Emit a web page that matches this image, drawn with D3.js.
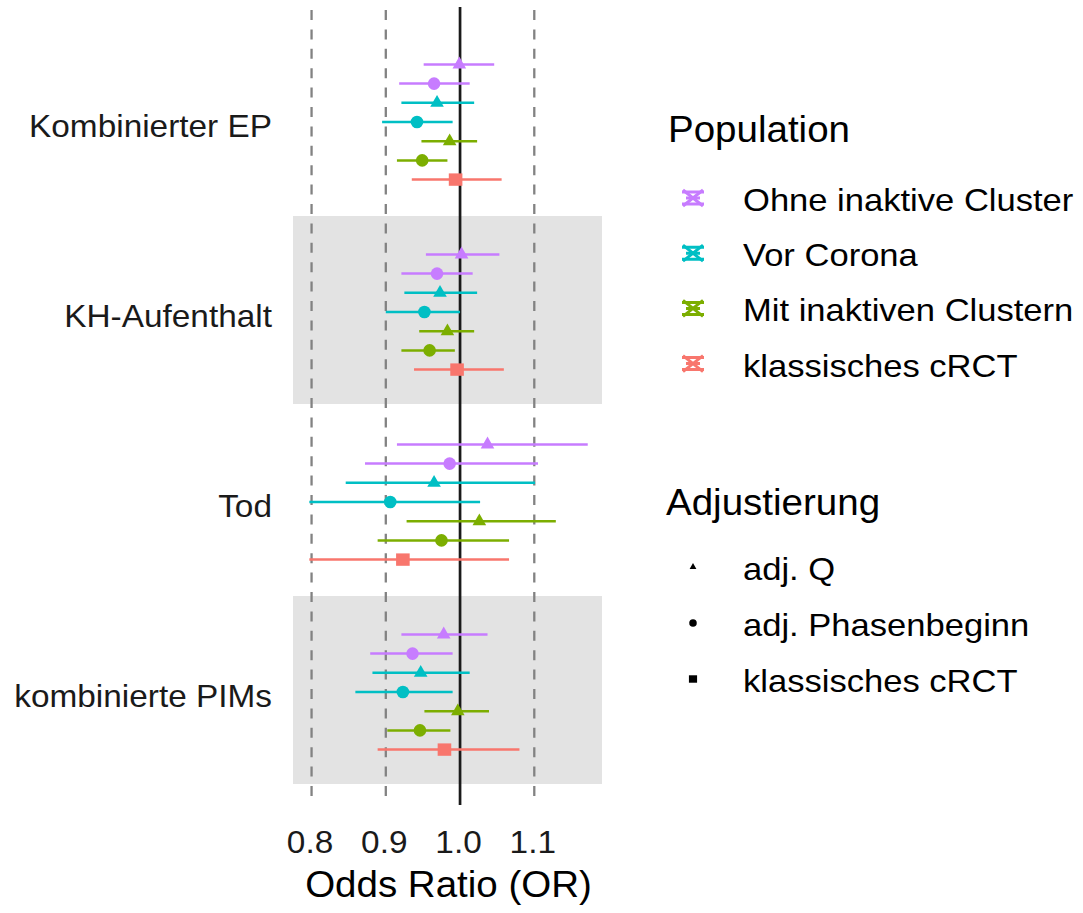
<!DOCTYPE html>
<html><head><meta charset="utf-8">
<script src="https://cdn.jsdelivr.net/npm/d3@7"></script>
<style>body{margin:0;background:#fff;} text{font-family:"Liberation Sans",Arial,sans-serif;}</style>
</head><body><svg id="c" width="1083" height="913"></svg>
<script>
const outcomes = ["Kombinierter EP","KH-Aufenthalt","Tod","kombinierte PIMs"];
const populations = ["Ohne inaktive Cluster","Vor Corona","Mit inaktiven Clustern","klassisches cRCT"];
const popColors = ["#C77CFF","#00BFC4","#7CAE00","#F8766D"];
const adjustments = ["adj. Q","adj. Phasenbeginn","klassisches cRCT"];
const adjShapes = ["triangle","circle","square"];
// the 7 estimate rows inside each outcome (top to bottom)
const rowPop = [0,0,1,1,2,2,3];
const rowAdj = [0,1,0,1,0,1,2];
const estKombEP = [0.999,0.965,0.969,0.942,0.986,0.949,0.994];
const lowKombEP = [0.951,0.918,0.921,0.895,0.948,0.915,0.935];
const highKombEP = [1.046,1.013,1.019,0.990,1.023,0.983,1.056];
const estKH = [1.002,0.969,0.973,0.952,0.983,0.959,0.996];
const lowKH = [0.954,0.921,0.925,0.900,0.945,0.921,0.938];
const highKH = [1.053,1.017,1.023,1.000,1.019,0.993,1.059];
const estTod = [1.037,0.986,0.965,0.906,1.026,0.975,0.923];
const lowTod = [0.915,0.872,0.846,0.797,0.928,0.889,0.797];
const highTod = [1.172,1.105,1.101,1.027,1.129,1.066,1.066];
const estPIM = [0.978,0.936,0.947,0.923,0.997,0.946,0.979];
const lowPIM = [0.921,0.879,0.882,0.859,0.952,0.902,0.889];
const highPIM = [1.037,0.990,1.013,0.990,1.039,0.987,1.080];
const xTicks = [0.8,0.9,1.0,1.1];
const refLine = 1.0;
const dashedLines = [0.8,0.9,1.1];

const est = [estKombEP,estKH,estTod,estPIM];
const low = [lowKombEP,lowKH,lowTod,lowPIM];
const high = [highKombEP,highKH,highTod,highPIM];
const data = [];
outcomes.forEach((o,i)=>{ for(let k=0;k<7;k++){ data.push({outcome:o,row:k,pop:rowPop[k],adj:rowAdj[k],est:est[i][k],lo:low[i][k],hi:high[i][k]}); } });

const svg = d3.select("#c");
svg.append("rect").attr("width",1083).attr("height",913).attr("fill","#fff");
const x = d3.scaleLinear().domain([0.775,1.1912]).range([293,602]);
const y = d3.scaleBand().domain(outcomes).range([27,787]).padding(0);
const dodge = d3.scaleBand().domain(d3.range(7)).range([-67.2,67.2]);
const panelTop = 7, panelBottom = 805;

// shaded bands
svg.selectAll("rect.band").data(outcomes.filter((d,i)=>i%2===1)).join("rect")
  .attr("x",x.range()[0]).attr("width",x.range()[1]-x.range()[0])
  .attr("y",d=>y(d)-1).attr("height",y.bandwidth()-2)
  .attr("fill","#E3E3E3");

// dashed lines
svg.selectAll("line.dash").data(dashedLines).join("line")
  .attr("x1",d=>x(d)).attr("x2",d=>x(d)).attr("y1",panelTop).attr("y2",panelBottom)
  .attr("stroke","#828282").attr("stroke-width",2.3).attr("stroke-dasharray","10,9.4").attr("stroke-dashoffset",16.4);
svg.append("line").attr("x1",x(refLine)).attr("x2",x(refLine)).attr("y1",panelTop).attr("y2",panelBottom)
  .attr("stroke","#1a1a1a").attr("stroke-width",2.7);

const cy = d=>y(d.outcome)+y.bandwidth()/2+dodge(d.row)+dodge.bandwidth()/2;
// error bars
svg.selectAll("line.eb").data(data).join("line")
  .attr("x1",d=>x(d.lo)).attr("x2",d=>x(d.hi)).attr("y1",cy).attr("y2",cy)
  .attr("stroke",d=>popColors[d.pop]).attr("stroke-width",2.5);

function shapePath(s, cx, cyv, scale){
  scale = scale||1;
  if(s==="triangle"){ const w=6.8*scale,t=7.8*scale,b=4*scale; return `M${cx},${cyv-t}L${cx+w},${cyv+b}L${cx-w},${cyv+b}Z`; }
  if(s==="square"){ const w=6.8*scale,h=6.2*scale; return `M${cx-w},${cyv-h}h${2*w}v${2*h}h${-2*w}Z`; }
  const r=6.3*scale; return `M${cx-r},${cyv}a${r},${r} 0 1,0 ${2*r},0a${r},${r} 0 1,0 ${-2*r},0Z`;
}
svg.selectAll("path.pt").data(data).join("path")
  .attr("d",d=>shapePath(adjShapes[d.adj],x(d.est),cy(d)))
  .attr("fill",d=>popColors[d.pop]);

function stext(t,xp,yp,size,anchor,color,sx){
  svg.append("text").attr("transform",`translate(${xp},${yp}) scale(${sx||1.06},1)`)
    .attr("text-anchor",anchor).attr("font-size",size).attr("fill",color||"#000").text(t);
}
// y-axis labels
outcomes.forEach(o=>stext(o,272,y(o)+y.bandwidth()/2+14.5,31.5,"end","#1a1a1a"));
// x-axis tick labels
xTicks.forEach(t=>stext(d3.format(".1f")(t),x(t)-1.5,852.5,31.5,"middle","#1a1a1a"));
stext("Odds Ratio (OR)",(x.range()[0]+x.range()[1])/2+1,897,36,"middle","#000",1.07);

// legend Population
stext("Population",668,141.5,36,"start","#000",1.07);
populations.forEach((p,i)=>{
  const by = 211+i*55.2, kx=693, ky=by-13;
  const g = svg.append("g").attr("stroke",popColors[i]).attr("stroke-width",3).attr("fill","none");
  g.append("path").attr("d",`M${kx-10},${ky-8}L${kx+10},${ky+8}M${kx+10},${ky-8}L${kx-10},${ky+8}`);
  g.append("path").attr("d",`M${kx-11},${ky-6}H${kx+11}M${kx-11},${ky+6}H${kx+11}M${kx-7},${ky}H${kx+7}`);
  stext(p,743,by,32,"start","#000",1.08);
});
// legend Adjustierung
stext("Adjustierung",666,515,36,"start","#000",1.07);
adjustments.forEach((a,i)=>{
  const by = 580+i*56, ky = by-13;
  svg.append("path").attr("d",shapePath(adjShapes[i],693,ky,i===0?0.5:0.6)).attr("fill","#000");
  stext(a,743,by,32,"start","#000",1.08);
});
</script></body></html>
